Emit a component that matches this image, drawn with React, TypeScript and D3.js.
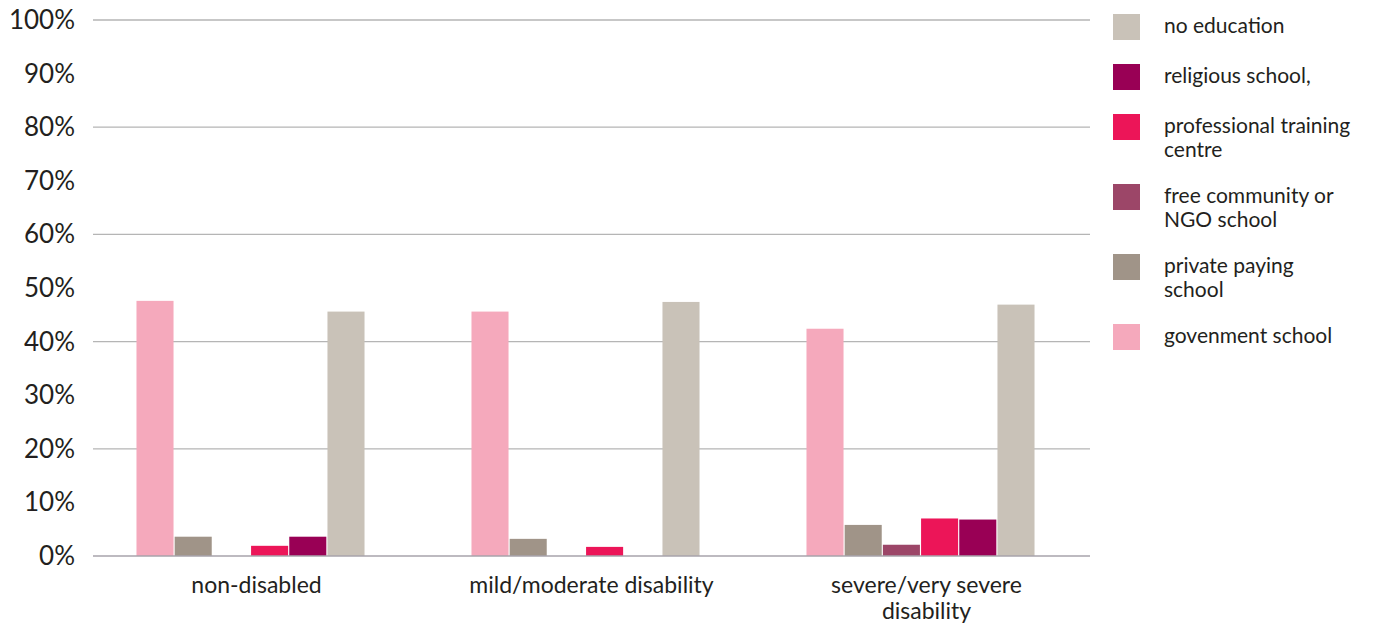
import React from "react";
import * as d3 from "d3";

const categories = ["non-disabled", "mild/moderate disability", "severe/very severe disability"];
const series = [
  "govenment school",
  "private paying school",
  "free community or NGO school",
  "professional training centre",
  "religious school,",
  "no education",
];
const colors = ["#f5a9bc", "#a09488", "#9c4668", "#ec1558", "#990055", "#c9c2b8"];
// values per series, one per category (%)
const govenment = [47.6, 45.6, 42.4];
const privatePaying = [3.6, 3.2, 5.8];
const freeCommunity = [0, 0, 2.1];
const professional = [1.9, 1.7, 7.0];
const religious = [3.6, 0, 6.8];
const noEducation = [45.6, 47.4, 46.9];
const seriesValues = [govenment, privatePaying, freeCommunity, professional, religious, noEducation];

const yTicks = [0, 10, 20, 30, 40, 50, 60, 70, 80, 90, 100];
const gridTicks = [20, 40, 60, 80, 100];

// legend display lines (reverse order of series)
const legendOrder = [5, 4, 3, 2, 1, 0];
const legendLines = [
  ["no education"],
  ["religious school,"],
  ["professional training", "centre"],
  ["free community or", "NGO school"],
  ["private paying", "school"],
  ["govenment school"],
];

const FONT = "Lato, 'Open Sans', sans-serif";

function wrap(label: string, maxChars: number): string[] {
  const words = label.split(" ");
  const lines: string[] = [];
  let cur = "";
  for (const w of words) {
    const t = cur ? cur + " " + w : w;
    if (t.length > maxChars && cur) {
      lines.push(cur);
      cur = w;
    } else cur = t;
  }
  if (cur) lines.push(cur);
  return lines;
}

export default function App() {
  const W = 1396;
  const H = 627;
  const left = 93;
  const right = 1090;
  const y = d3.scaleLinear().domain([0, 100]).range([556, 20]);
  const x0 = d3.scaleBand<string>().domain(categories).range([left - 4, right + 4]).padding(0);
  const x1 = d3
    .scaleBand<string>()
    .domain(series)
    .range([0, x0.bandwidth()])
    .paddingInner(0.03)
    .paddingOuter(1.4);

  let ly = 14;
  const legendItems = legendOrder.map((si, i) => {
    const lines = legendLines[i];
    const item = { si, lines, y: ly };
    ly += 50 + 20 * (lines.length - 1);
    return item;
  });

  return (
    <svg
      width={W}
      height={H}
      style={{ position: "absolute", left: 0, top: 0, background: "#fff" }}
      fontFamily={FONT}
    >
      {gridTicks.map((t) => (
        <line key={t} x1={left} x2={right} y1={y(t)} y2={y(t)} stroke="#b5b5b5" strokeWidth={1.3} />
      ))}
      {yTicks.map((t) => (
        <text key={t} x={75} y={y(t) + 9} textAnchor="end" fontSize={26} fill="#231f20">
          {t}%
        </text>
      ))}
      {categories.map((c, ci) =>
        series.map((s, si) => {
          const v = seriesValues[si][ci];
          if (!v) return null;
          return (
            <rect
              key={c + s}
              x={(x0(c) as number) + (x1(s) as number) - 6}
              y={y(v)}
              width={x1.bandwidth()}
              height={y(0) - y(v)}
              fill={colors[si]}
            />
          );
        })
      )}
      <line x1={left} x2={right} y1={y(0)} y2={y(0)} stroke="#a7a3ab" strokeWidth={1.5} />
      {categories.map((c) => {
        const lines = wrap(c, 25);
        const cx = (x0(c) as number) + x0.bandwidth() / 2;
        return (
          <g key={c}>
            {lines.map((l, i) => (
              <text key={i} x={cx} y={593 + i * 26} textAnchor="middle" fontSize={23} fill="#231f20">
                {l}
              </text>
            ))}
          </g>
        );
      })}
      {legendItems.map((it) => (
        <g key={it.si}>
          <rect x={1113} y={it.y} width={27} height={26} fill={colors[it.si]} />
          {it.lines.map((l, i) => (
            <text key={i} x={1164} y={it.y + 19 + i * 24} fontSize={21} fill="#231f20">
              {l}
            </text>
          ))}
        </g>
      ))}
    </svg>
  );
}
